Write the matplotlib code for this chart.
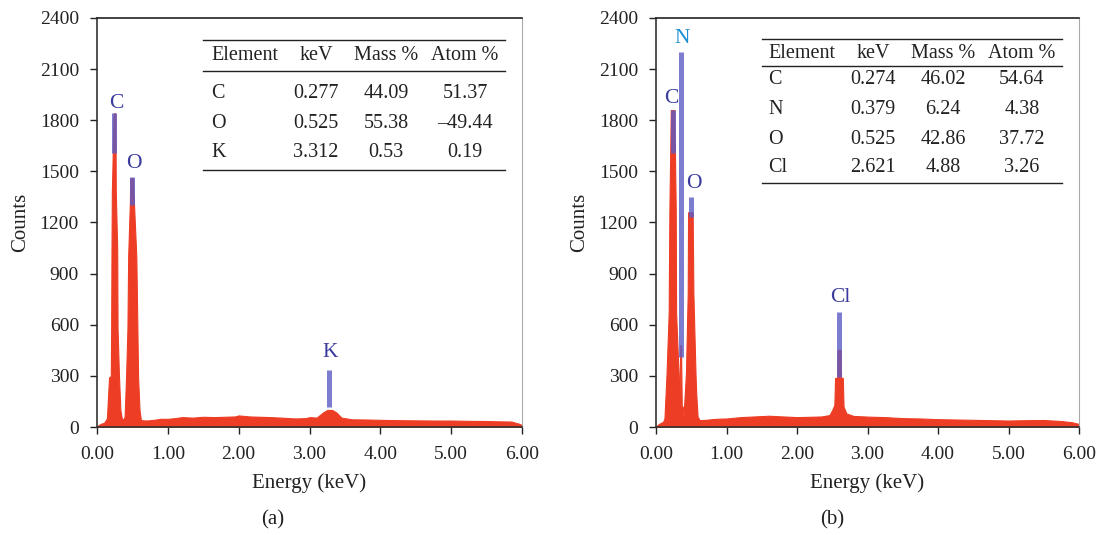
import matplotlib
matplotlib.use("Agg")
import matplotlib.pyplot as plt
from matplotlib.lines import Line2D

plt.rcParams['font.family'] = ['Liberation Serif', 'DejaVu Serif']

# ---------------- data ----------------
# spectrum outline (a)
energy_a = [0.00, 0.05, 0.10, 0.14, 0.17, 0.195, 0.20, 0.205, 0.21, 0.235, 0.26, 0.265, 0.285,
            0.29, 0.31, 0.33, 0.35, 0.37, 0.39, 0.41, 0.43, 0.44, 0.465, 0.47, 0.51, 0.52, 0.555,
            0.57, 0.58, 0.60, 0.62, 0.70, 0.80, 0.90, 1.00, 1.10, 1.20, 1.35, 1.50, 1.65, 1.80,
            1.95, 2.00, 2.15, 2.30, 2.45, 2.60, 2.80, 2.95, 3.00, 3.10, 3.19, 3.25, 3.32, 3.38,
            3.45, 3.60, 3.80, 4.00, 4.25, 4.50, 4.75, 5.00, 5.25, 5.50, 5.70, 5.85, 5.95, 6.00]
counts_a = [5, 18, 25, 50, 290, 300, 580, 1050, 1380, 1840, 1840, 1380, 1050,
            580, 300, 100, 50, 45, 60, 290, 580, 1000, 1330, 1460, 1460, 1330, 1000,
            580, 290, 100, 40, 38, 42, 48, 48, 52, 58, 55, 60, 58, 60,
            62, 68, 62, 60, 58, 55, 50, 52, 58, 55, 85, 100, 100, 85,
            55, 45, 44, 42, 40, 39, 38, 38, 36, 35, 33, 32, 20, 12]

# spectrum outline (b)
energy_b = [0.00, 0.05, 0.10, 0.12, 0.15, 0.18, 0.19, 0.21, 0.26, 0.28, 0.285, 0.32, 0.325,
            0.33, 0.345, 0.355, 0.365, 0.38, 0.39, 0.425, 0.45, 0.455, 0.52, 0.53, 0.56, 0.57,
            0.59, 0.62, 0.70, 0.85, 1.00, 1.20, 1.40, 1.60, 1.80, 2.00, 2.20, 2.35, 2.46, 2.50,
            2.53, 2.54, 2.57, 2.575, 2.62, 2.625, 2.65, 2.66, 2.70, 2.80, 3.00, 3.25, 3.50, 3.75,
            4.00, 4.25, 4.50, 4.75, 5.00, 5.25, 5.50, 5.75, 5.90, 6.00]
counts_b = [5, 20, 30, 50, 316, 670, 1270, 1860, 1860, 1270, 670, 316, 120,
            120, 480, 480, 120, 120, 60, 316, 786, 1260, 1260, 786, 316, 200,
            60, 40, 42, 48, 50, 58, 62, 66, 62, 58, 60, 62, 70, 100,
            130, 288, 288, 452, 452, 288, 288, 120, 80, 65, 61, 58, 52, 50,
            46, 44, 42, 40, 38, 40, 41, 35, 28, 18]

# element markers: (label, energy, top, bottom, label_x, label_y, colour)
markers_a = [("C", 0.247, 1840, 1610, 0.27, 1900, "#3b3b9e"),
             ("O", 0.494, 1467, 1303, 0.52, 1545, "#3b3b9e"),
             ("K", 3.28, 334, 117, 3.29, 440, "#3b3b9e")]
markers_b = [("N", 0.355, 2202, 412, 0.37, 2280, "#1b8fd2"),
             ("C", 0.235, 1860, 1608, 0.22, 1925, "#3b3b9e"),
             ("O", 0.496, 1352, 1234, 0.54, 1430, "#3b3b9e"),
             ("Cl", 2.60, 673, 293, 2.61, 760, "#3b3b9e")]

table_header = ["Element", "keV", "Mass %", "Atom %"]
table_a = [["C", "0.277", "44.09", "51.37"],
           ["O", "0.525", "55.38", "\u201349.44"],
           ["K", "3.312", "0.53", "0.19"]]
table_b = [["C", "0.274", "46.02", "54.64"],
           ["N", "0.379", "6.24", "4.38"],
           ["O", "0.525", "42.86", "37.72"],
           ["Cl", "2.621", "4.88", "3.26"]]

x_ticks = [0, 1, 2, 3, 4, 5, 6]
y_ticks = [0, 300, 600, 900, 1200, 1500, 1800, 2100, 2400]

# ---------------- figure ----------------
W, H = 1101, 535
fig = plt.figure(figsize=(W / 100, H / 100), dpi=100)

def fx(px):
    return px / W

def fy(py):
    return 1 - py / H

RED = "#ee3d25"
MARK = "#5c5cc4"
TXT = "#222222"

def make_axes(left, right, energy, counts, markers, panel_label, label_x):
    ax = fig.add_axes([fx(left), fy(427), fx(right - left), (427 - 18) / H])
    ax.fill_between(energy, 0, counts, color=RED, lw=0.8, edgecolor=RED, zorder=2)
    for lab, e, top, bot, lx, ly, col in markers:
        ax.vlines(e, bot, top, colors=MARK, lw=3.6, alpha=0.8, zorder=3)
        ax.text(lx, ly, lab, color=col, fontsize=15.5, ha="center", va="center", zorder=4)
    ax.set_xlim(0, 6)
    ax.set_ylim(0, 2400)
    ax.set_xticks(x_ticks)
    ax.set_xticklabels([f"{v:.2f}" for v in x_ticks])
    ax.set_yticks(y_ticks)
    ax.tick_params(direction="out", length=5, width=1, labelsize=14, colors=TXT,
                   top=False, right=False)
    ax.tick_params(axis="x", pad=9)
    ax.tick_params(axis="y", pad=8)
    for s in ["left", "bottom"]:
        ax.spines[s].set_color("#333333")
        ax.spines[s].set_linewidth(1.2)
    ax.spines["top"].set_color(TXT)
    ax.spines["top"].set_linewidth(1.2)
    ax.spines["right"].set_color("#aaaaaa")
    ax.spines["right"].set_linewidth(0.8)
    ax.set_xlabel("Energy (keV)", fontsize=15, color=TXT, labelpad=7)
    ax.set_ylabel("Counts", fontsize=15, color=TXT, labelpad=7)
    fig.text(fx(label_x), fy(520), panel_label, fontsize=15, ha="center", va="center",
             color=TXT)
    return ax

ax_a = make_axes(97, 522, energy_a, counts_a, markers_a, "(a)", 273)
ax_b = make_axes(656, 1079, energy_b, counts_b, markers_b, "(b)", 832)

def hline(x0, x1, y, lw=1.0):
    fig.add_artist(Line2D([fx(x0), fx(x1)], [fy(y), fy(y)], color=TXT, lw=lw))

def draw_table(x0, x1, lines_y, header_y, rows_y, col_x, rows):
    for y in lines_y:
        hline(x0, x1, y)
    for j, h in enumerate(table_header):
        ha = "left" if j == 0 else "center"
        fig.text(fx(col_x[j]), fy(header_y), h, fontsize=14.5, ha=ha, va="center",
                 color=TXT)
    for r, y in zip(rows, rows_y):
        for j, v in enumerate(r):
            ha = "left" if j == 0 else "center"
            fig.text(fx(col_x[j]), fy(y), v, fontsize=14.5, ha=ha, va="center",
                     color=TXT)

draw_table(203, 505, [40, 71, 170], 56, [93, 123, 152], [211, 316, 386, 465], table_a)
draw_table(762, 1062, [39, 66, 183], 54, [80, 110, 139, 168], [768, 873, 943, 1022], table_b)

fig.savefig("out.png", dpi=100)
